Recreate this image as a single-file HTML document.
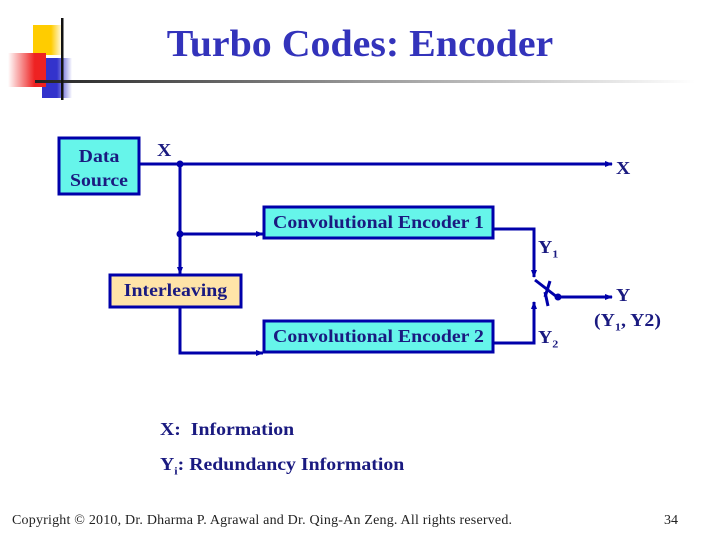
<!DOCTYPE html>
<html><head><meta charset="utf-8"><style>
body{margin:0;width:720px;height:540px;background:#fff;overflow:hidden;position:relative;font-family:"Liberation Serif",serif}
.t{position:absolute;white-space:nowrap}
.b{font-size:18px;font-weight:bold;color:#1a1a80;transform:scaleX(1.1)}
.c{transform-origin:center}
.l{transform-origin:left}
</style></head><body>
<svg width="720" height="540" style="position:absolute;left:0;top:0">
<defs>
<linearGradient id="hl" x1="0" x2="1"><stop offset="0" stop-color="#222"/><stop offset="0.5" stop-color="#999"/><stop offset="1" stop-color="#fff"/></linearGradient>
<linearGradient id="yl" x1="0" x2="1"><stop offset="0.6" stop-color="#ffcc00"/><stop offset="1" stop-color="#fff"/></linearGradient>
<linearGradient id="rd" x1="1" x2="0"><stop offset="0.3" stop-color="#ee2222"/><stop offset="1" stop-color="#fff"/></linearGradient>
<linearGradient id="bl" x1="0" x2="1"><stop offset="0.5" stop-color="#3333cc"/><stop offset="1" stop-color="#fff"/></linearGradient>
<marker id="a" markerWidth="8" markerHeight="8" refX="7" refY="4" orient="auto" markerUnits="userSpaceOnUse"><path d="M0,1 L8,4 L0,7z" fill="#0000aa"/></marker>
</defs>
<rect x="33" y="25" width="30" height="30" fill="url(#yl)"/>
<rect x="42" y="58" width="30" height="40" fill="url(#bl)"/>
<rect x="8" y="53" width="38" height="34" fill="url(#rd)"/>
<rect x="35" y="80" width="660" height="3" fill="url(#hl)"/>
<rect x="61" y="18" width="2.5" height="82" fill="#111"/>
<g stroke="#0000aa" stroke-width="3" fill="none">
<rect x="59" y="138" width="80" height="56" fill="#66f5ea"/>
<rect x="264" y="207" width="229" height="31" fill="#66f5ea"/>
<rect x="264" y="321" width="229" height="31" fill="#66f5ea"/>
<rect x="110" y="275" width="131" height="32" fill="#ffe4a8"/>
<line x1="139" y1="164" x2="612" y2="164" marker-end="url(#a)"/>
<line x1="180" y1="164" x2="180" y2="274" marker-end="url(#a)"/>
<line x1="180" y1="234" x2="263" y2="234" marker-end="url(#a)"/>
<polyline points="180,307 180,353 263,353" marker-end="url(#a)"/>
<polyline points="493,229 534,229 534,277" marker-end="url(#a)"/>
<polyline points="493,343 534,343 534,302" marker-end="url(#a)"/>
<line x1="535" y1="280" x2="557" y2="297"/>
<line x1="550" y1="281" x2="545" y2="297"/>
<line x1="545" y1="292" x2="548" y2="306"/>
<line x1="558" y1="297" x2="612" y2="297" marker-end="url(#a)"/>
</g>
<g fill="#0000aa"><circle cx="180" cy="164" r="3.5"/><circle cx="180" cy="234" r="3.5"/><circle cx="558" cy="297" r="3.5"/></g>
</svg>
<div class="t c" style="left:0;width:720px;text-align:center;top:22px;font-size:38px;font-weight:bold;color:#3333bb;transform:scaleX(1.05)">Turbo Codes: Encoder</div>
<div class="t b c" style="left:59px;width:80px;text-align:center;top:144px;line-height:24px">Data<br>Source</div>
<div class="t b c" style="left:264px;width:229px;text-align:center;top:212px">Convolutional Encoder 1</div>
<div class="t b c" style="left:264px;width:229px;text-align:center;top:326px">Convolutional Encoder 2</div>
<div class="t b c" style="left:110px;width:131px;text-align:center;top:280px">Interleaving</div>
<div class="t b l" style="left:157px;top:140px">X</div>
<div class="t b l" style="left:616px;top:158px">X</div>
<div class="t b l" style="left:538px;top:237px">Y<sub style="font-size:11px">1</sub></div>
<div class="t b l" style="left:538px;top:327px">Y<sub style="font-size:11px">2</sub></div>
<div class="t b l" style="left:616px;top:285px">Y</div>
<div class="t b l" style="left:594px;top:310px">(Y<sub style="font-size:11px">1</sub>, Y2)</div>
<div class="t b l" style="left:160px;top:419px">X:&nbsp; Information</div>
<div class="t b l" style="left:160px;top:454px">Y<sub style="font-size:11px">i</sub>: Redundancy Information</div>
<div class="t" style="left:12px;top:513px;font-size:14px;color:#222;letter-spacing:0.2px">Copyright © 2010, Dr. Dharma P. Agrawal and Dr. Qing-An Zeng. All rights reserved.</div>
<div class="t" style="left:664px;top:513px;font-size:14px;color:#222">34</div>
</body></html>
